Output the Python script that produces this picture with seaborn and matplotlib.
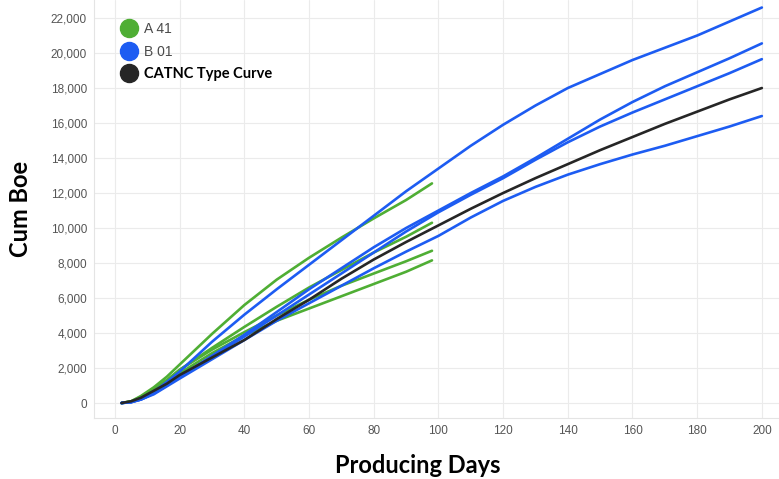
import pandas as pd
import seaborn as sns
from matplotlib import pyplot as plt
from matplotlib.lines import Line2D
from matplotlib.ticker import FuncFormatter

# Producing days sampled along each curve
days_long = [2, 5, 8, 12, 16, 20, 30, 40, 50, 60, 70, 80, 90, 100,
             110, 120, 130, 140, 150, 160, 170, 180, 190, 200]
days_short = [2, 5, 8, 12, 16, 20, 30, 40, 50, 60, 70, 80, 90, 98]

# A 41 wells (green, ~98 days of history)
a41_w1 = [0, 100, 400, 900, 1500, 2200, 3950, 5600, 7050, 8300, 9450, 10550, 11600, 12550]
a41_w2 = [0, 80, 350, 800, 1300, 1900, 3150, 4350, 5500, 6600, 7600, 8600, 9500, 10300]
a41_w3 = [0, 80, 350, 800, 1300, 1900, 3050, 4050, 5000, 5900, 6700, 7400, 8100, 8700]
a41_w4 = [0, 80, 300, 700, 1200, 1700, 2850, 3850, 4700, 5400, 6100, 6800, 7500, 8150]

# B 01 wells (blue, 200 days)
b01_w1 = [0, 50, 250, 650, 1200, 1800, 3500, 5050, 6500, 7900, 9300, 10700, 12100, 13400,
          14700, 15900, 17000, 18000, 18800, 19600, 20300, 21000, 21800, 22600]
b01_w2 = [0, 50, 200, 550, 1000, 1500, 2700, 3900, 5200, 6500, 7700, 8900, 10000, 11000,
          12000, 12950, 14000, 15100, 16200, 17200, 18100, 18900, 19700, 20550]
b01_w3 = [0, 50, 200, 550, 1000, 1500, 2650, 3800, 5000, 6200, 7400, 8600, 9800, 10900,
          11900, 12850, 13900, 14900, 15800, 16600, 17350, 18100, 18850, 19650]
b01_w4 = [0, 50, 200, 500, 950, 1400, 2500, 3600, 4700, 5700, 6700, 7700, 8650, 9550,
          10600, 11550, 12350, 13050, 13650, 14200, 14700, 15250, 15800, 16400]

# CATNC type curve
type_curve = [0, 100, 300, 700, 1100, 1600, 2600, 3600, 4800, 5900, 7100, 8200, 9200, 10150,
              11100, 12000, 12850, 13650, 14450, 15200, 15950, 16650, 17350, 18000]

group_names = ["A 41", "B 01", "CATNC Type Curve"]
colors = {"A 41": "#4fae34", "B 01": "#1d5cf2", "CATNC Type Curve": "#262626"}

rows = []
def add_curve(group, well, days, vals):
    for d, v in zip(days, vals):
        rows.append({"day": d, "boe": v, "group": group, "well": well})

for i, w in enumerate([a41_w1, a41_w2, a41_w3, a41_w4]):
    add_curve("A 41", "A%d" % i, days_short, w)
for i, w in enumerate([b01_w1, b01_w2, b01_w3, b01_w4]):
    add_curve("B 01", "B%d" % i, days_long, w)
add_curve("CATNC Type Curve", "TC", days_long, type_curve)
df = pd.DataFrame(rows)

sns.set_style("whitegrid")
plt.rcParams['font.family'] = ['Liberation Sans', 'DejaVu Sans']

fig = plt.figure(figsize=(7.79, 4.79), dpi=100)
ax = fig.add_axes([94 / 779, 1 - 418 / 479, 685 / 779, 418 / 479])

sns.lineplot(data=df, x="day", y="boe", hue="group", units="well", estimator=None,
             palette=colors, linewidth=1.9, legend=False, ax=ax, sort=False)

ax.set_xlim(-6.5, 205.3)
ax.set_ylim(-857, 23030)
ax.set_xticks(range(0, 201, 20))
ax.set_yticks(range(0, 22001, 2000))
ax.yaxis.set_major_formatter(FuncFormatter(lambda v, p: "{:,.0f}".format(v)))
ax.grid(True, color="#ebebeb", linewidth=0.8)
ax.tick_params(axis="both", length=0, labelsize=8.5, labelcolor="#555555", pad=5)
for s in ["top", "right"]:
    ax.spines[s].set_visible(False)
for s in ["left", "bottom"]:
    ax.spines[s].set_color("#e4e4e4")
    ax.spines[s].set_linewidth(0.8)

ax.set_xlabel("Producing Days", fontsize=17, fontweight="bold", family="Lato", color="black")
ax.set_ylabel("Cum Boe", fontsize=17, fontweight="bold", family="Lato", color="black")
ax.xaxis.set_label_coords(0.473, -0.085)
ax.yaxis.set_label_coords(-0.09, 0.5)

handles = [Line2D([], [], marker="o", linestyle="", markersize=13, color=colors[g]) for g in group_names]
leg = fig.legend(handles, group_names, loc="upper left", bbox_to_anchor=(114 / 779, 1 - 15 / 479),
                 frameon=False, fontsize=10, handletextpad=0.45, labelspacing=0.62,
                 handlelength=1.2, borderpad=0)
texts = leg.get_texts()
for t in texts[:2]:
    t.set_color("#4a4a4a")
texts[2].set_fontweight("bold")
texts[2].set_family("Lato")
texts[2].set_fontsize(10.5)
texts[2].set_color("black")

fig.savefig("out.png", dpi=100)
